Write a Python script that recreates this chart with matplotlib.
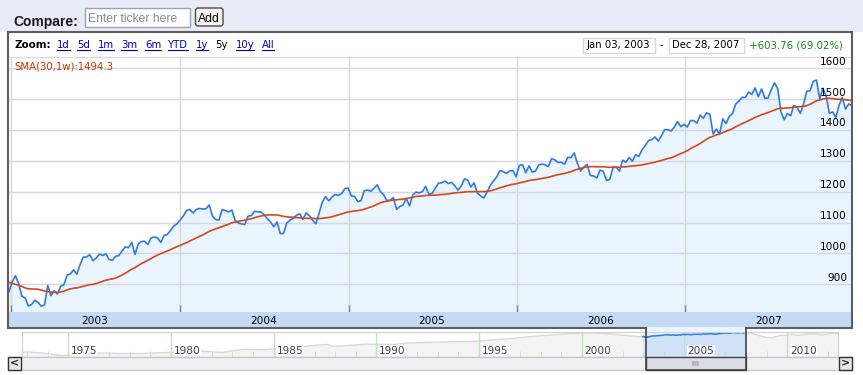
import matplotlib
matplotlib.use("Agg")
import matplotlib.pyplot as plt
from matplotlib.patches import Rectangle, FancyBboxPatch
import numpy as np
import pandas as pd

W, H = 863, 375

# weekly closes (S&P 500, Dec 27 2002 .. Dec 28 2007)
# the 29 weeks of 2002 before the first point only feed the 30 week SMA
lookback_2002 = [1027.5, 1007.3, 989.1, 989.8, 989.0, 921.4, 847.8, 852.8, 864.2, 908.6,
                 928.8, 940.9, 916.1, 893.9, 889.8, 845.4, 827.4, 800.6, 835.3, 884.4,
                 897.7, 900.4, 894.7, 909.8, 930.6, 936.3, 906.6, 889.5, 895.8]
first_week = [875.4]
closes_2003 = [908.6, 927.6, 901.8, 861.4, 855.7, 829.7, 834.9, 848.2, 841.2, 828.9,
               833.3, 895.8, 863.5, 878.9, 868.3, 893.6, 898.8, 930.1, 933.4, 946.7,
               933.2, 963.6, 987.8, 988.6, 995.7, 976.2, 985.7, 998.1, 993.3, 998.7,
               980.2, 977.6, 990.7, 993.1, 1008.0, 1021.4, 1018.6, 1036.3, 996.9, 1029.9,
               1038.7, 1039.3, 1028.9, 1050.7, 1053.2, 1050.4, 1035.3, 1058.2, 1061.5, 1074.1,
               1088.7, 1095.9]
closes_2004 = [1108.5, 1121.9, 1139.8, 1141.6, 1131.1, 1142.8, 1145.8, 1144.1, 1144.9, 1156.9,
               1120.6, 1109.8, 1108.1, 1141.8, 1139.3, 1134.6, 1140.6, 1107.3, 1098.7, 1095.7,
               1093.6, 1120.7, 1122.5, 1136.5, 1135.0, 1134.4, 1125.4, 1112.8, 1101.4, 1086.2,
               1101.7, 1064.0, 1064.8, 1098.6, 1107.8, 1113.6, 1123.9, 1128.6, 1110.1, 1131.5,
               1122.1, 1108.2, 1095.7, 1130.2, 1166.2, 1184.2, 1170.3, 1182.7, 1191.2, 1188.0,
               1194.2, 1210.1, 1211.9]
closes_2005 = [1186.2, 1184.5, 1167.9, 1171.4, 1203.0, 1205.3, 1201.6, 1211.4, 1222.1, 1200.1,
               1190.2, 1171.4, 1172.9, 1181.2, 1142.6, 1152.1, 1156.9, 1178.8, 1154.1, 1189.3,
               1198.8, 1196.0, 1200.9, 1217.0, 1191.6, 1194.4, 1211.9, 1227.9, 1229.0, 1234.2,
               1226.4, 1230.4, 1219.7, 1205.1, 1218.0, 1241.5, 1237.9, 1215.3, 1228.8, 1195.9,
               1186.6, 1179.6, 1198.4, 1220.1, 1234.7, 1248.3, 1268.3, 1265.1, 1259.4, 1267.3,
               1268.7, 1248.3]
closes_2006 = [1285.5, 1287.6, 1261.5, 1283.7, 1264.0, 1267.0, 1287.2, 1289.4, 1287.2, 1281.4,
               1307.3, 1303.0, 1294.8, 1295.5, 1289.1, 1311.3, 1310.6, 1325.8, 1291.2, 1267.0,
               1280.2, 1288.2, 1252.3, 1251.5, 1244.5, 1270.2, 1265.5, 1236.2, 1240.3, 1278.6,
               1279.4, 1266.7, 1302.3, 1295.1, 1311.0, 1298.9, 1319.7, 1314.8, 1335.9, 1349.6,
               1365.6, 1368.6, 1377.3, 1364.3, 1380.9, 1401.2, 1401.0, 1396.7, 1409.8, 1427.1,
               1410.8, 1418.3]
closes_2007 = [1409.7, 1430.7, 1430.5, 1422.2, 1448.4, 1438.1, 1455.5, 1451.2, 1387.2, 1402.8,
               1387.0, 1436.1, 1420.9, 1443.8, 1452.9, 1484.4, 1494.1, 1505.6, 1505.9, 1522.8,
               1515.7, 1536.3, 1507.7, 1532.9, 1502.6, 1503.4, 1530.4, 1552.5, 1534.1, 1459.0,
               1433.1, 1453.6, 1445.9, 1479.4, 1474.0, 1453.6, 1484.3, 1525.8, 1526.8, 1557.6,
               1561.8, 1500.6, 1535.3, 1509.7, 1453.7, 1458.7, 1440.7, 1481.1, 1504.7, 1468.0,
               1484.5, 1478.5]

price_ticks = [900, 1000, 1100, 1200, 1300, 1400, 1500, 1600]
years = [2003, 2004, 2005, 2006, 2007]
zoom_links = ["1d", "5d", "1m", "3m", "6m", "YTD", "1y", "5y", "10y", "All"]
active_link = "5y"

# navigator (long history strip)
nav_years = [1972.74, 1973.0, 1973.9, 1974.7, 1975.5, 1976.5, 1977.5, 1978.5, 1979.5, 1980.5,
             1981.5, 1982.5, 1983.5, 1984.5, 1985.5, 1986.5, 1987.6, 1987.9, 1988.5, 1989.5,
             1990.8, 1991.5, 1992.5, 1993.5, 1994.5, 1995.5, 1996.5, 1997.5, 1998.5, 1999.5,
             2000.2, 2000.7, 2001.5, 2002.5, 2002.97]
nav_vals = [110, 118, 97, 70, 92, 102, 96, 95, 105, 120,
            128, 110, 165, 158, 190, 245, 320, 245, 265, 330,
            310, 380, 415, 450, 460, 560, 670, 900, 1100, 1330,
            1460, 1440, 1220, 950, 880]
nav_years_after = [2007.9, 2008.3, 2008.8, 2009.2, 2009.7, 2010.3, 2010.5, 2011.0, 2011.3, 2011.7, 2012.2, 2012.48]
nav_vals_after = [1480, 1360, 900, 740, 1050, 1180, 1060, 1280, 1340, 1150, 1400, 1390]
nav_labels = [1975, 1980, 1985, 1990, 1995, 2000, 2005, 2010]

closes = np.array(first_week + closes_2003 + closes_2004 + closes_2005 + closes_2006 + closes_2007)
sma = pd.Series(lookback_2002 + list(closes)).rolling(30).mean().to_numpy()[len(lookback_2002):]
dates = pd.date_range("2002-12-27", periods=len(closes), freq="W-FRI")


def box(x0, y0, x1, y1):
    # pixel box (top-left origin) -> figure fraction
    return [x0 / W, 1 - y1 / H, (x1 - x0) / W, (y1 - y0) / H]


fig = plt.figure(figsize=(W / 100, H / 100), dpi=100)

bg = fig.add_axes([0, 0, 1, 1], zorder=0)
bg.set_xlim(0, W)
bg.set_ylim(H, 0)
bg.axis("off")

# compare bar
bg.add_patch(Rectangle((0, 0), W, 32, fc="#e8ecf7", ec="none"))
bg.text(13.5, 26, "Compare:", fontsize=10, fontweight="bold", family="Liberation Sans",
        color="#1a1a1a", va="baseline")
bg.add_patch(Rectangle((84.5, 7.5), 105, 19, fc="white", ec="#9aa3ad", lw=1))
bg.text(88, 21.5, "Enter ticker here", fontsize=8.7, family="Liberation Sans", color="#8a8a8a",
        va="baseline")
bg.add_patch(FancyBboxPatch((195.5, 8), 27.5, 18, boxstyle="round,pad=0,rounding_size=2.5",
                            fc="#f3f3ec", ec="#4a4a4a", lw=1))
bg.text(209.3, 21.5, "Add", fontsize=8.7, family="Liberation Sans", color="#000", ha="center",
        va="baseline")

bg.add_patch(Rectangle((8, 32), 844, 296, fc="white", ec="none"))

# zoom row
bg.text(14, 48.3, "Zoom:", fontsize=7.4, fontweight="bold", color="#000", va="baseline")
fig.canvas.draw()
r = fig.canvas.get_renderer()
x = 57.3
for lab in zoom_links:
    col = "#000000" if lab == active_link else "#0000cc"
    t = bg.text(x, 48.3, lab, fontsize=7.3, color=col, va="baseline")
    w = t.get_window_extent(r).width
    if lab != active_link:
        bg.plot([x, x + w], [50.2, 50.2], color=col, lw=0.8)
    x += w + 7.4

bg.add_patch(Rectangle((582.5, 37.5), 72.5, 15, fc="white", ec="#d8d8d8", lw=1))
bg.text(618.7, 48.3, "Jan 03, 2003", fontsize=7.3, color="#000", ha="center", va="baseline")
bg.text(661.7, 48.3, "-", fontsize=7.3, color="#000", ha="center", va="baseline")
bg.add_patch(Rectangle((668.5, 37.5), 75, 15, fc="white", ec="#d8d8d8", lw=1))
bg.text(706, 48.3, "Dec 28, 2007", fontsize=7.3, color="#000", ha="center", va="baseline")
bg.text(749, 48.3, "+603.76 (69.02%)", fontsize=7.3, color="#108a10", va="baseline")

# main price chart
ymin, ymax = 810.2, 1636.5
ax = fig.add_axes(box(9, 57, 852, 312), zorder=2)
ax.fill_between(dates, closes, ymin, color="#eaf4fd", lw=0, zorder=1)
ax.plot(dates, closes, color="#2f7bdd", lw=1.2, zorder=3)
ax.plot(dates, sma, color="#d2491c", lw=1.2, zorder=3)
ax.set_xlim(dates[0], dates[-1])
ax.set_ylim(ymin, ymax)
ax.set_yticks(price_ticks)
ax.set_xticks(pd.to_datetime([f"{y}-01-01" for y in years]))
ax.set_axisbelow("line")
ax.yaxis.grid(True, color="#d6d6ea", lw=1)
ax.xaxis.grid(True, color="#d2d9d2", lw=1)
ax.tick_params(axis="x", direction="in", length=5, width=1, color="#808080", labelbottom=False)
ax.tick_params(axis="y", length=0, labelleft=False)
for s in ["left", "right", "bottom"]:
    ax.spines[s].set_visible(False)
ax.spines["top"].set_color("#d6d6ea")
ytr = ax.get_yaxis_transform()
for v in price_ticks:
    ax.annotate(str(v), xy=(1, v), xycoords=ytr, xytext=(-5, 1.5), textcoords="offset pixels",
                ha="right", va="bottom", fontsize=7.6, color="#000")
ax.annotate("SMA(30,1w):1494.3", xy=(0, 1), xycoords="axes fraction", xytext=(5, -9.5),
            textcoords="offset pixels", fontsize=7.3, color="#cc3300", va="center", zorder=5)

# year band
band = fig.add_axes(box(9, 312, 852, 327.5), zorder=2)
band.set_facecolor("#c5daf4")
band.set_xlim(dates[0], dates[-1])
band.set_ylim(0, 1)
band.set_xticks([])
band.set_yticks([])
for s in band.spines.values():
    s.set_visible(False)
for y in years:
    band.text(pd.Timestamp(f"{y}-07-01"), 0.45, str(y), fontsize=7.6, color="#000",
              ha="center", va="center")

# navigator
nav_lo, nav_hi = 60, 1650
nav = fig.add_axes(box(21.7, 332, 838, 357), zorder=2)
nav.set_yscale("log")
nav.set_xlim(1972.74, 2012.48)
nav.set_ylim(nav_lo, nav_hi)
nav.fill_between(nav_years, nav_vals, nav_lo, color="#f4f4f4", lw=0)
nav.plot(nav_years, nav_vals, color="#d8d8d8", lw=1)
nav.fill_between(nav_years_after, nav_vals_after, nav_lo, color="#f4f4f4", lw=0)
nav.plot(nav_years_after, nav_vals_after, color="#d8d8d8", lw=1)
week_years = 2003 + (dates - pd.Timestamp("2003-01-01")).days / 365.25
nav.axvspan(week_years[0], week_years[-1], color="#eaf4fd", lw=0)
nav.fill_between(week_years, closes, nav_lo, color="#cfe2f8", lw=0)
nav.plot(week_years, closes, color="#2f7bdd", lw=1.1)
nav.set_xticks(nav_labels)
nav.set_xticks(range(1973, 2013), minor=True)
nav.xaxis.grid(True, color="#c6dfc6", lw=1)
nav.tick_params(axis="x", which="both", direction="in", length=4, color="#c6dfc6",
                labelbottom=False)
nav.tick_params(axis="y", which="both", length=0, labelleft=False)
nav.yaxis.set_major_locator(plt.NullLocator())
nav.yaxis.set_minor_locator(plt.NullLocator())
for s in nav.spines.values():
    s.set_color("#d0d0d0")
xtr = nav.get_xaxis_transform()
for y in nav_labels:
    nav.text(y + 0.15, 0.14, str(y), transform=xtr, fontsize=7.6, color="#444",
             va="baseline", bbox=dict(fc="white", ec="none", pad=0.3, alpha=0.8))

# overlay: frame, selection window and scrollbar
ov = fig.add_axes([0, 0, 1, 1], zorder=10)
ov.set_xlim(0, W)
ov.set_ylim(H, 0)
ov.axis("off")
ov.add_patch(Rectangle((8, 357), 844, 13, fc="#f1f1f3", ec="#c8c8c8", lw=1))
ov.add_patch(Rectangle((645.5, 327), 100, 5, fc="#eaf4fd", ec="none"))
ov.add_patch(Rectangle((645.5, 357), 100, 13, fc="#dcdce6", ec="#444", lw=1))
ov.text(695.5, 364, "IIII", fontsize=5, color="#777", ha="center", va="center")
ov.add_patch(Rectangle((8, 357), 13, 13, fc="#e6e6e6", ec="#333", lw=1))
ov.text(14.5, 363.5, "<", fontsize=8, fontweight="bold", color="#222", ha="center", va="center")
ov.add_patch(Rectangle((839, 357), 13, 13, fc="#e6e6e6", ec="#333", lw=1))
ov.text(845.5, 363.5, ">", fontsize=8, fontweight="bold", color="#222", ha="center", va="center")
fc = "#5e5e5e"
ov.plot([8, 852], [32, 32], color=fc, lw=1.5)
ov.plot([8, 8], [32, 328], color=fc, lw=1.5)
ov.plot([852, 852], [32, 328], color=fc, lw=1.5)
ov.plot([8, 645.5], [327.5, 327.5], color=fc, lw=1.5)
ov.plot([745.5, 852], [327.5, 327.5], color=fc, lw=1.5)
ov.plot([645.5, 645.5, 745.5, 745.5], [327.5, 370, 370, 327.5], color="#444", lw=1.2)

fig.savefig("out.png", dpi=100)
